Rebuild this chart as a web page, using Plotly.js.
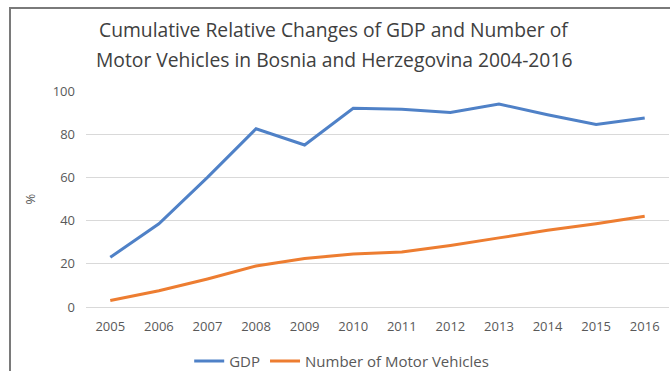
<!DOCTYPE html>
<html>
<head>
<meta charset="utf-8">
<script src="https://cdn.plot.ly/plotly-3.0.1.min.js"></script>
<style>
html,body{margin:0;padding:0;background:#fff;overflow:hidden;}
#frame{position:absolute;left:9px;top:7px;width:700px;height:400px;border-left:2px solid #7a7a7a;border-top:2px solid #7a7a7a;}
#chart{position:absolute;left:0;top:0;width:670px;height:371px;}
</style>
</head>
<body>
<div id="frame"></div>
<div id="chart"></div>
<script>
const years = ['2005','2006','2007','2008','2009','2010','2011','2012','2013','2014','2015','2016'];
const gdp = [23, 38.5, 60, 82.5, 75, 92, 91.5, 90, 94, 89, 84.5, 87.5];
const vehicles = [3, 7.5, 13, 19, 22.5, 24.5, 25.5, 28.5, 32, 35.5, 38.5, 42];
const yTicks = [0, 20, 40, 60, 80, 100];
const titleLines = ['Cumulative Relative Changes of GDP and Number of',
                    'Motor Vehicles in Bosnia and Herzegovina 2004-2016'];

const font = 'Open Sans, Liberation Sans, sans-serif';
const traces = [
  {x: years, y: gdp, name: 'GDP', type: 'scatter', mode: 'lines',
   line: {color: '#4f81c7', width: 3}},
  {x: years, y: vehicles, name: 'Number of Motor Vehicles', type: 'scatter', mode: 'lines',
   line: {color: '#ed7d31', width: 3}}
];
const layout = {
  width: 670, height: 371,
  margin: {l: 86, r: 1, t: 91, b: 64, autoexpand: false},
  paper_bgcolor: 'rgba(0,0,0,0)', plot_bgcolor: 'rgba(0,0,0,0)',
  font: {family: font, color: '#595959', size: 13},
  showlegend: true,
  legend: {orientation: 'h', xref: 'container', yref: 'container',
           x: 0.51, xanchor: 'center', y: 0.026, yanchor: 'middle',
           font: {size: 15, color: '#595959'}, bgcolor: 'rgba(0,0,0,0)'},
  xaxis: {type: 'category', range: [-0.5, 11.5], showgrid: false, zeroline: false,
          showline: true, linecolor: '#d9d9d9', linewidth: 1, ticks: '',
          ticklabelstandoff: 7,
          tickfont: {size: 13, color: '#595959'}, fixedrange: true},
  yaxis: {range: [0, 100], tickvals: yTicks, ticktext: yTicks.map(String),
          showgrid: true, gridcolor: '#d9d9d9', gridwidth: 1, zeroline: false,
          showline: false, ticks: '', ticklabelstandoff: 10,
          tickfont: {size: 13, color: '#595959'},
          title: {text: '%', font: {size: 13, color: '#595959'}, standoff: 14}},
  annotations: titleLines.map((t, i) => ({
    text: t, xref: 'paper', yref: 'paper', x: 0.425, xanchor: 'center',
    y: 1 + (91 - (29 + 31 * i)) / 216, yanchor: 'middle', showarrow: false,
    font: {family: font, size: 19.3, color: '#404040'}
  }))
};
Plotly.newPlot('chart', traces, layout, {displayModeBar: false, staticPlot: true});
</script>
</body>
</html>
